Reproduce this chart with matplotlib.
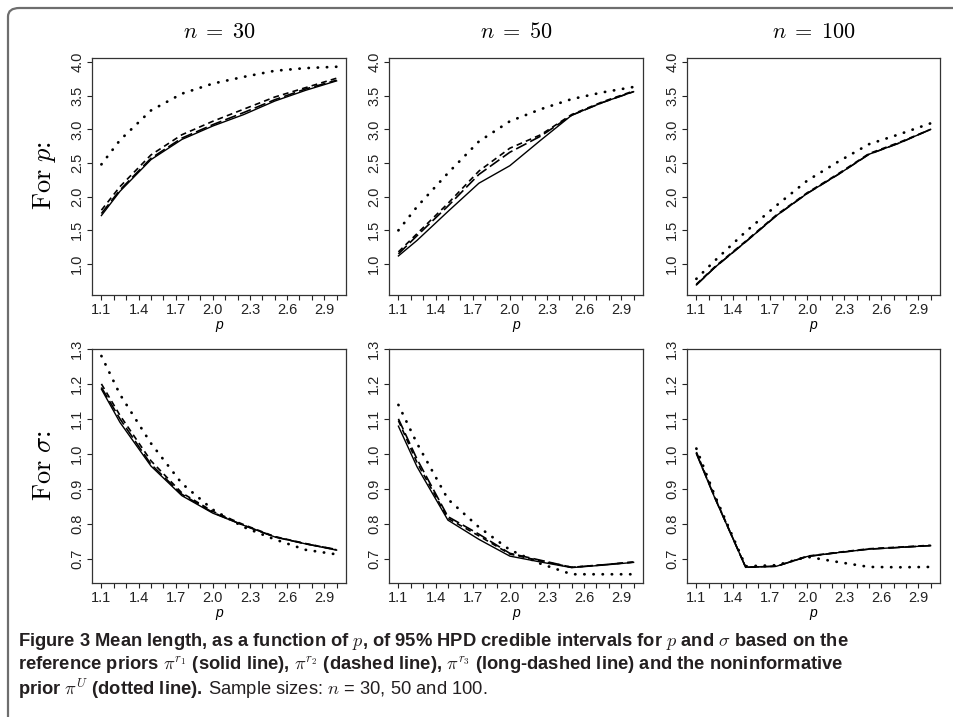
import matplotlib
matplotlib.use("Agg")
import matplotlib.pyplot as plt
import numpy as np
from matplotlib.patches import FancyBboxPatch

plt.rcParams["mathtext.fontset"] = "cm"
plt.rcParams["font.family"] = ["Liberation Sans", "DejaVu Sans"]

# grid of p values and mean HPD interval lengths
p_grid = [1.1, 1.25, 1.5, 1.75, 2.0, 2.25, 2.5, 2.75, 3.0]
sizes = [30, 50, 100]

# length for p
p_r1 = {
    30: [1.72, 2.08, 2.55, 2.85, 3.05, 3.22, 3.42, 3.58, 3.72],
    50: [1.12, 1.35, 1.78, 2.20, 2.46, 2.84, 3.21, 3.40, 3.56],
    100: [0.69, 0.95, 1.33, 1.72, 2.05, 2.33, 2.63, 2.80, 3.00],
}
p_r2 = {
    30: [1.80, 2.15, 2.62, 2.92, 3.12, 3.30, 3.48, 3.62, 3.76],
    50: [1.18, 1.45, 1.90, 2.38, 2.72, 2.92, 3.22, 3.41, 3.57],
    100: [0.70, 0.96, 1.34, 1.73, 2.06, 2.34, 2.64, 2.81, 3.00],
}
p_r3 = {
    30: [1.75, 2.10, 2.57, 2.87, 3.07, 3.25, 3.44, 3.60, 3.73],
    50: [1.15, 1.42, 1.86, 2.33, 2.66, 2.90, 3.21, 3.40, 3.56],
    100: [0.69, 0.95, 1.33, 1.72, 2.05, 2.33, 2.63, 2.80, 3.00],
}
p_unif = {
    30: [2.48, 2.84, 3.28, 3.53, 3.68, 3.78, 3.87, 3.91, 3.93],
    50: [1.50, 1.85, 2.35, 2.82, 3.12, 3.30, 3.45, 3.55, 3.63],
    100: [0.78, 1.05, 1.48, 1.87, 2.24, 2.52, 2.78, 2.93, 3.09],
}

# length for sigma
s_r1 = {
    30: [1.185, 1.090, 0.965, 0.880, 0.830, 0.795, 0.762, 0.742, 0.724],
    50: [1.079, 0.963, 0.810, 0.755, 0.707, 0.690, 0.674, 0.681, 0.689],
    100: [1.000, 0.873, 0.675, 0.678, 0.706, 0.717, 0.727, 0.732, 0.737],
}
s_r2 = {
    30: [1.200, 1.110, 0.980, 0.888, 0.835, 0.797, 0.763, 0.743, 0.725],
    50: [1.095, 0.975, 0.815, 0.765, 0.713, 0.693, 0.675, 0.682, 0.690],
    100: [1.005, 0.876, 0.675, 0.678, 0.707, 0.718, 0.728, 0.733, 0.738],
}
s_r3 = {
    30: [1.190, 1.100, 0.970, 0.884, 0.832, 0.795, 0.762, 0.742, 0.726],
    50: [1.100, 0.985, 0.820, 0.770, 0.715, 0.695, 0.675, 0.682, 0.690],
    100: [1.002, 0.874, 0.675, 0.678, 0.706, 0.717, 0.727, 0.732, 0.737],
}
s_unif = {
    30: [1.280, 1.170, 1.030, 0.915, 0.840, 0.790, 0.755, 0.725, 0.712],
    50: [1.140, 1.030, 0.870, 0.790, 0.725, 0.685, 0.655, 0.655, 0.655],
    100: [1.015, 0.880, 0.678, 0.681, 0.705, 0.690, 0.676, 0.675, 0.676],
}

W, H = 954, 717
fig = plt.figure(figsize=(W / 100, H / 100), dpi=100)


def px_axes(x0, y0, x1, y1):
    return fig.add_axes([x0 / W, 1 - y1 / H, (x1 - x0) / W, (y1 - y0) / H])


cols = [(92, 346), (389, 643), (687, 940)]
rows = [(58, 295), (349, 583)]
ylims = [(0.54, 4.06), (0.63, 1.30)]
yticks = [np.arange(1.0, 4.01, 0.5), np.arange(0.7, 1.31, 0.1)]
series = [(p_r1, p_r2, p_r3, p_unif), (s_r1, s_r2, s_r3, s_unif)]

styles = [
    dict(ls="-", lw=1.0),
    dict(ls=(0, (3.5, 2.5)), lw=1.2),
    dict(ls=(0, (7, 2.5)), lw=1.2),
    dict(ls=(0, (0.1, 3.2)), lw=2.0, dash_capstyle="round"),
]

xt = np.round(np.arange(1.1, 3.001, 0.1), 1)
xlab = [f"{v:.1f}" if i % 3 == 0 else "" for i, v in enumerate(xt)]

for r, (y0, y1) in enumerate(rows):
    for c, (x0, x1) in enumerate(cols):
        ax = px_axes(x0, y0, x1, y1)
        n = sizes[c]
        for data, st in zip(series[r], styles):
            ax.plot(p_grid, data[n], color="black", **st)
        ax.set_xlim(1.024, 3.076)
        ax.set_ylim(*ylims[r])
        ax.set_xticks(xt)
        ax.set_xticklabels(xlab)
        ax.set_yticks(yticks[r])
        ax.set_yticklabels([f"{v:.1f}" for v in yticks[r]], rotation=90, va="center")
        ax.tick_params(direction="out", length=3.5, width=0.8, labelsize=10.5,
                       colors="#222222", pad=2)
        for sp in ax.spines.values():
            sp.set_linewidth(0.9)
            sp.set_color("#333333")
        ax.set_xlabel("p", fontsize=10, labelpad=1, style="italic")
        if r == 0:
            fig.text((x0 + x1) / 2 / W, 1 - 33 / H, rf"$n\;=\;{n}$", fontsize=16,
                     ha="center", va="center")

row_lab = dict(fontsize=19, rotation=90, ha="center", va="center",
               family=["Liberation Serif", "DejaVu Serif"])
fig.text(45 / W, 1 - 176 / H, r"$\mathrm{For}\ p$:", **row_lab)
fig.text(45 / W, 1 - 466 / H, r"$\mathrm{For}\ \sigma$:", **row_lab)

# outer frame
frame = FancyBboxPatch((8 / W, -0.2), 1.2, 1.2 - 8 / H,
                       boxstyle="round,pad=0,rounding_size=0.012",
                       transform=fig.transFigure, fill=False,
                       edgecolor="#6e6e6e", lw=1.6, clip_on=False)
fig.patches.append(frame)

cap = dict(family=["Liberation Sans Narrow", "Liberation Sans", "DejaVu Sans"],
           fontsize=13.2, color="#231f20", va="baseline", ha="left")
fig.text(18 / W, 1 - 646 / H,
         r"Figure 3 Mean length, as a function of $p$, of 95% HPD credible intervals "
         r"for $p$ and $\sigma$ based on the", weight="bold", **cap)
fig.text(18 / W, 1 - 670 / H,
         r"reference priors $\pi^{r_1}$ (solid line), $\pi^{r_2}$ (dashed line), "
         r"$\pi^{r_3}$ (long-dashed line) and the noninformative", weight="bold", **cap)
t3 = fig.text(18 / W, 1 - 694 / H, r"prior $\pi^{U}$ (dotted line).",
              weight="bold", **cap)
fig.canvas.draw()
bb = t3.get_window_extent()
fig.text((bb.x1 + 5) / W, 1 - 694 / H, r"Sample sizes: $n$ = 30, 50 and 100.",
         weight="normal", **cap)

fig.savefig("out.png", dpi=100)
